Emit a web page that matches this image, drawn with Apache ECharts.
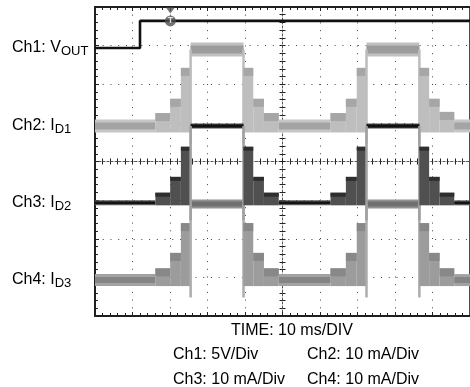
<!DOCTYPE html>
<html><head><meta charset="utf-8">
<script src="https://cdn.jsdelivr.net/npm/echarts@6/dist/echarts.min.js"></script>
<style>html,body{margin:0;padding:0;background:#fff}#c{width:470px;height:387px}</style>
</head><body><div id="c"></div>
<script>
// Horizontal: screen time in ms (10 ms/div). Vertical: screen divisions (0 = bottom, 8 = top).
const segTimes  = [0, 16.1, 20.05, 22.9, 25.5, 39.6, 42.2, 45.05, 49.0, 62.8, 66.9, 69.8, 72.4, 86.5, 89.1, 91.9, 95.8, 100];
const segMode   = [0, 1, 1, 1, 0, 1, 1, 1, 0, 1, 1, 1, 0, 1, 1, 1, 0]; // 0 steady, 1 switching
// LED currents in mA (10 mA/div) above each channel's reference
const ch2Levels = [0, 2.3, 6.0, 14.0, 19.8, 14.0, 6.0, 2.3, 0, 2.3, 6.0, 14.0, 19.8, 14.0, 6.0, 2.6, 0];
const ch3Levels = [0, 2.1, 6.2, 14.0, 19.9, 14.0, 6.2, 2.1, 0, 2.1, 6.2, 14.0, 19.9, 14.0, 6.2, 2.1, 0];
const ch4Levels = [0, 2.0, 6.0, 13.7, 19.7, 13.7, 6.0, 2.0, 0, 2.0, 6.0, 13.7, 19.7, 13.7, 6.0, 2.0, 0];
const ch2Ref = 4.92, ch3Ref = 2.93, ch4Ref = 0.93;   // reference levels, divisions
// Ch1 VOUT (divisions on screen)
const ch1Times  = [0, 12.0, 100];
const ch1Levels = [6.94, 7.64, 7.64];
const triggerTime = 20.1;
const triggerArrowLevel = 7.91;
// Texts
const chLabels = [
  {main: 'Ch1: V', sub: 'OUT'},
  {main: 'Ch2: I', sub: 'D1'},
  {main: 'Ch3: I', sub: 'D2'},
  {main: 'Ch4: I', sub: 'D3'}
];
const timeLabel = 'TIME: 10 ms/DIV';
const scaleLabels = ['Ch1: 5V/Div', 'Ch2: 10 mA/Div', 'Ch3: 10 mA/Div', 'Ch4: 10 mA/Div'];

const FONT = "'Liberation Sans', Arial, Helvetica, sans-serif";

function chanSeries(name, levels, ref, st) {
  const data = levels.map((lv, i) => [segTimes[i], segTimes[i + 1], lv, segMode[i]]);
  return {
    type: 'custom', name, xAxisIndex: 0, yAxisIndex: 0, clip: true, silent: true,
    data, encode: {x: [0, 1], y: 2},
    renderItem(params, api) {
      const t0 = api.value(0), t1 = api.value(1), lv = api.value(2), md = api.value(3);
      const a = api.coord([t0, ref + lv / 10]);
      const b = api.coord([t1, ref + lv / 10]);
      const base = api.coord([t0, ref]);
      const w = b[0] - a[0];
      const ch = [];
      if (md === 1) {
        const top = a[1] - st.swBand / 2;
        ch.push({type: 'rect', shape: {x: a[0], y: top, width: w, height: base[1] + st.baseOuter / 2 - top}, style: {fill: st.swFill}});
        ch.push({type: 'rect', shape: {x: a[0], y: top, width: w, height: st.swBand}, style: {fill: st.swEdge}});
      } else {
        const full = lv > 0;
        const outer = full ? st.fullOuter : st.baseOuter;
        const inner = full ? st.fullInner : st.baseInner;
        ch.push({type: 'rect', shape: {x: a[0], y: a[1] - outer / 2, width: w, height: outer}, style: {fill: full ? st.fullOuterC : st.baseOuterC}});
        ch.push({type: 'rect', shape: {x: a[0], y: a[1] - inner / 2, width: w, height: inner}, style: {fill: full ? st.fullInnerC : st.baseInnerC}});
        if (full) {
          const low = api.coord([t0, ref - 0.45]);
          ch.push({type: 'line', shape: {x1: a[0], y1: a[1], x2: a[0], y2: low[1]}, style: {stroke: st.edge, lineWidth: 2.5}});
          ch.push({type: 'line', shape: {x1: b[0], y1: b[1], x2: b[0], y2: low[1]}, style: {stroke: st.edge, lineWidth: 2.5}});
        }
      }
      return {type: 'group', children: ch};
    }
  };
}

const ch2Style = {baseOuter: 13, baseInner: 7, baseOuterC: '#c6c6c6', baseInnerC: '#a4a4a4',
  fullOuter: 14, fullInner: 8, fullOuterC: '#c0c0c0', fullInnerC: '#9c9c9c',
  swFill: '#bebebe', swBand: 8, swEdge: '#a6a6a6', edge: '#bcbcbc'};
const ch3Style = {baseOuter: 5, baseInner: 2.5, baseOuterC: '#5a5a5a', baseInnerC: '#141414',
  fullOuter: 5, fullInner: 3, fullOuterC: '#4a4a4a', fullInnerC: '#111111',
  swFill: '#505050', swBand: 4, swEdge: '#2e2e2e', edge: '#a0a0a0'};
const ch4Style = {baseOuter: 12, baseInner: 6, baseOuterC: '#a2a2a2', baseInnerC: '#858585',
  fullOuter: 9, fullInner: 5, fullOuterC: '#929292', fullInnerC: '#707070',
  swFill: '#9c9c9c', swBand: 8, swEdge: '#888888', edge: '#acacac'};

const gridRect = {left: 95, top: 7, width: 384, height: 309};
const tickStyle = {color: '#222', width: 1};

function borderX(pos, split) {
  return {type: 'value', gridIndex: 0, position: pos, min: 0, max: 100, interval: 10,
    axisLine: {show: true, onZero: false, lineStyle: {color: '#111', width: 1.5}},
    axisTick: {show: true, inside: true, length: 4, lineStyle: tickStyle},
    minorTick: {show: true, splitNumber: 5, length: 3, lineStyle: tickStyle},
    axisLabel: {show: false},
    splitLine: {show: split, lineStyle: {color: '#444', width: 1, type: [1, 6.7]}},
    minorSplitLine: {show: false}};
}
function crossX(gi, inside) {
  return {type: 'value', gridIndex: gi, min: -50, max: 50, interval: 10,
    axisLine: {show: inside, onZero: true, lineStyle: {color: '#555', width: 1, type: [2, 2]}},
    axisTick: {show: true, inside, length: 3, lineStyle: tickStyle},
    minorTick: {show: true, splitNumber: 5, length: 3, lineStyle: tickStyle},
    axisLabel: {show: false}, splitLine: {show: false}};
}
function crossY(gi, inside) {
  return {type: 'value', gridIndex: gi, min: -4, max: 4, interval: 1,
    axisLine: {show: inside, onZero: true, lineStyle: {color: '#555', width: 1, type: [2, 2]}},
    axisTick: {show: true, inside, length: 3, lineStyle: tickStyle},
    minorTick: {show: true, splitNumber: 5, length: 3, lineStyle: tickStyle},
    axisLabel: {show: false}, splitLine: {show: false}};
}

const labelYs = [ch1Levels[0], ch2Ref, ch3Ref, ch4Ref];

const chart = echarts.init(document.getElementById('c'), null, {renderer: 'canvas'});
const option = {
  animation: false,
  backgroundColor: '#fff',
  grid: [
    Object.assign({show: true, borderColor: '#111', borderWidth: 1.5, backgroundColor: 'transparent'}, gridRect),
    Object.assign({show: false}, gridRect),
    Object.assign({show: false}, gridRect)
  ],
  xAxis: [borderX('bottom', true), borderX('top', false), crossX(1, true), crossX(2, false)],
  yAxis: [
    {type: 'value', gridIndex: 0, position: 'left', min: 0, max: 8, interval: 1,
      axisLine: {show: true, onZero: false, lineStyle: {color: '#111', width: 1.5}},
      axisTick: {show: true, inside: true, length: 4, lineStyle: tickStyle},
      minorTick: {show: true, splitNumber: 5, length: 3, lineStyle: tickStyle},
      axisLabel: {show: false},
      splitLine: {show: true, lineStyle: {color: '#444', width: 1, type: [1, 6.73]}}},
    crossY(1, true), crossY(2, false)
  ],
  series: [
    chanSeries('Ch4', ch4Levels, ch4Ref, ch4Style),
    chanSeries('Ch2', ch2Levels, ch2Ref, ch2Style),
    chanSeries('Ch3', ch3Levels, ch3Ref, ch3Style),
    {type: 'line', name: 'Ch1', xAxisIndex: 0, yAxisIndex: 0, step: 'end', symbol: 'none', silent: true,
      data: ch1Times.map((t, i) => [t, ch1Levels[i]]),
      lineStyle: {color: '#111', width: 2.6}},
    {type: 'scatter', xAxisIndex: 0, yAxisIndex: 0, silent: true, symbol: 'circle', symbolSize: 11,
      data: [[triggerTime, ch1Levels[1]]], itemStyle: {color: '#505050'},
      label: {show: true, position: 'inside', formatter: 'T', color: '#fff', fontSize: 9, fontWeight: 'bold', fontFamily: FONT}, z: 5},
    {type: 'scatter', xAxisIndex: 0, yAxisIndex: 0, silent: true, symbol: 'triangle', symbolRotate: 180, symbolSize: [9, 6],
      data: [[triggerTime, triggerArrowLevel]], itemStyle: {color: '#555'}, z: 5}
  ],
  graphic: []
};
chart.setOption(option);

// texts placed beside the channel references, using the axis conversion
const g = [];
chLabels.forEach((l, i) => {
  const p = chart.convertToPixel({xAxisIndex: 0, yAxisIndex: 0}, [0, labelYs[i]]);
  g.push({type: 'text', left: 12, top: p[1] - 10,
    style: {text: '{m|' + l.main + '}{s|' + l.sub + '}', fill: '#000',
      rich: {m: {fontSize: 16, fontFamily: FONT, lineHeight: 20, fill: '#000'},
             s: {fontSize: 13, fontFamily: FONT, lineHeight: 13, padding: [7, 0, 0, 0], fill: '#000'}}}});
});
g.push({type: 'text', left: 231, top: 323, style: {text: timeLabel, fontSize: 16, fontFamily: FONT, fill: '#000'}});
g.push({type: 'text', left: 173, top: 347, style: {text: scaleLabels[0], fontSize: 16, fontFamily: FONT, fill: '#000'}});
g.push({type: 'text', left: 307, top: 347, style: {text: scaleLabels[1], fontSize: 16, fontFamily: FONT, fill: '#000'}});
g.push({type: 'text', left: 173, top: 372, style: {text: scaleLabels[2], fontSize: 16, fontFamily: FONT, fill: '#000'}});
g.push({type: 'text', left: 307, top: 372, style: {text: scaleLabels[3], fontSize: 16, fontFamily: FONT, fill: '#000'}});
chart.setOption({graphic: g});
</script>
</body></html>
